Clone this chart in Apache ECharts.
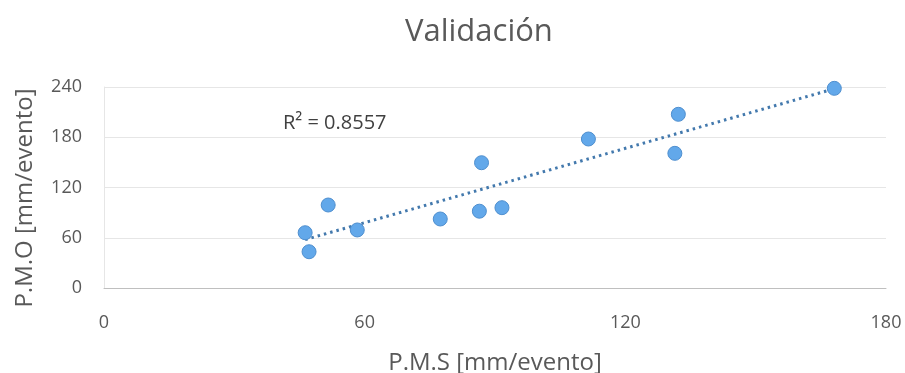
<!DOCTYPE html>
<html>
<head>
<meta charset="utf-8">
<script src="https://cdn.jsdelivr.net/npm/echarts@6/dist/echarts.min.js"></script>
<style>
  html, body { margin: 0; padding: 0; background: #fff; }
  #chart { width: 905px; height: 373px; }
</style>
</head>
<body>
<div id="chart"></div>
<script>
// Simulated vs observed event precipitation
const pmsSimulated = [46.3, 47.2, 51.6, 58.3, 77.4, 86.4, 86.9, 91.6, 111.5, 132.2, 131.4, 168.1];
const pmoObserved  = [66.0, 43.3, 99.1, 69.3, 82.4, 91.7, 149.6, 95.9, 177.9, 207.4, 160.8, 238.4];
const xTicks = [0, 60, 120, 180];
const yTicks = [0, 60, 120, 180, 240];
const rSquaredText = 'R² = 0.8557';
const xTitle = 'P.M.S [mm/evento]';
const yTitle = 'P.M.O [mm/evento]';

const points = pmsSimulated.map((x, i) => [x, pmoObserved[i]]);

// Least-squares linear fit for the trendline
const n = points.length;
const mx = pmsSimulated.reduce((a, b) => a + b, 0) / n;
const my = pmoObserved.reduce((a, b) => a + b, 0) / n;
let sxy = 0, sxx = 0;
for (let i = 0; i < n; i++) {
  sxy += (pmsSimulated[i] - mx) * (pmoObserved[i] - my);
  sxx += (pmsSimulated[i] - mx) ** 2;
}
const slope = sxy / sxx;
const intercept = my - slope * mx;
const xMin = Math.min(...pmsSimulated);
const xMax = Math.max(...pmsSimulated);
const trend = [[xMin, intercept + slope * xMin], [xMax, intercept + slope * xMax]];

const FONT = 'Open Sans';
const TXT = '#595959';

const chart = echarts.init(document.getElementById('chart'), null, { renderer: 'canvas' });
chart.setOption({
  animation: false,
  backgroundColor: '#ffffff',
  title: {
    text: 'Validación',
    left: 400,
    top: 12,
    textStyle: { fontFamily: FONT, fontSize: 31, fontWeight: 'normal', color: TXT }
  },
  grid: {
    left: 104, right: 19, top: 87, bottom: 85,
    containLabel: false,
    outerBoundsMode: 'none'
  },
  xAxis: {
    type: 'value',
    min: xTicks[0],
    max: xTicks[xTicks.length - 1],
    interval: 60,
    name: xTitle,
    nameLocation: 'middle',
    nameGap: 63,
    nameTextStyle: { fontFamily: FONT, fontSize: 24, color: TXT },
    axisLine: { show: true, lineStyle: { color: '#bfbfbf', width: 1 } },
    axisTick: { show: false },
    splitLine: { show: false },
    axisLabel: { fontFamily: FONT, fontSize: 18, color: TXT, margin: 26 }
  },
  yAxis: {
    type: 'value',
    min: yTicks[0],
    max: yTicks[yTicks.length - 1],
    interval: 60,
    axisLine: { show: true, lineStyle: { color: '#e6e6e6', width: 1 } },
    axisTick: { show: false },
    splitLine: { show: true, lineStyle: { color: '#e6e6e6', width: 1 } },
    axisLabel: { fontFamily: FONT, fontSize: 18, color: TXT, margin: 22 }
  },
  series: [
    {
      type: 'line',
      data: trend,
      symbol: 'none',
      silent: true,
      lineStyle: { color: '#4379ad', width: 3, type: [2.5, 4] },
      z: 1
    },
    {
      type: 'scatter',
      data: points,
      symbol: 'circle',
      symbolSize: 14,
      itemStyle: { color: '#62a8ea', borderColor: '#4f8fcf', borderWidth: 1, opacity: 1 },
      z: 2
    }
  ],
  graphic: [
    {
      type: 'text',
      left: 283,
      top: 113,
      style: { text: rSquaredText, fontFamily: FONT, fontSize: 20, fill: '#404040' }
    },
    {
      // vertical axis title, reading bottom to top
      type: 'text',
      x: 25,
      y: 198,
      rotation: Math.PI / 2,
      style: {
        text: yTitle, fontFamily: FONT, fontSize: 24, fill: TXT,
        align: 'center', verticalAlign: 'middle'
      }
    }
  ]
});
</script>
</body>
</html>
